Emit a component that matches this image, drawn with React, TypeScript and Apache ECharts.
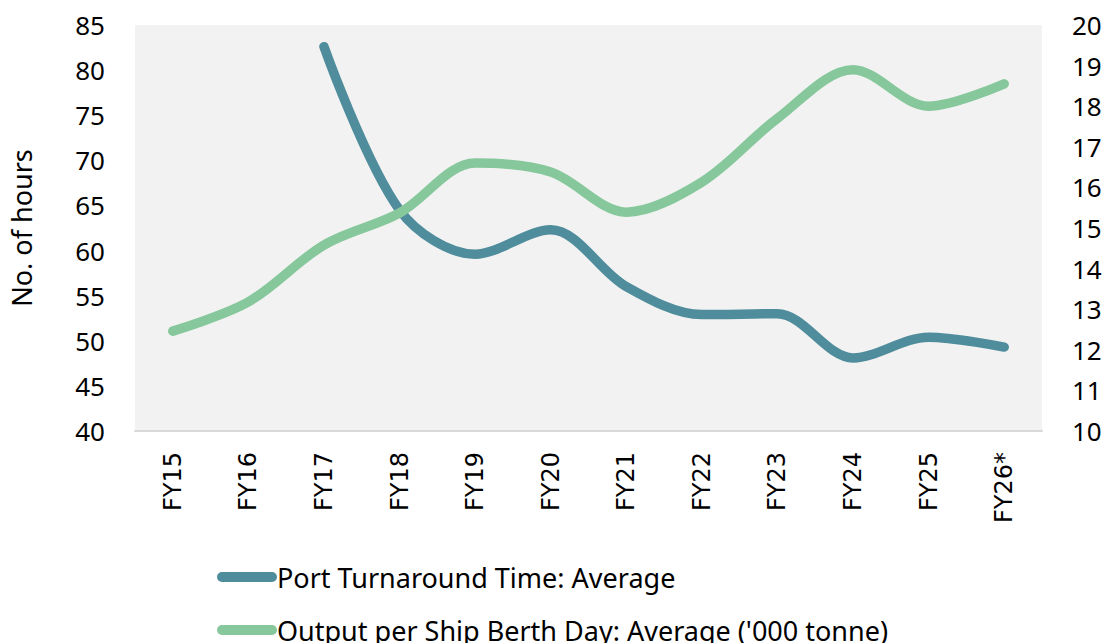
import React, { useEffect, useRef } from "react";
import * as echarts from "echarts";

const categories = ["FY15", "FY16", "FY17", "FY18", "FY19", "FY20", "FY21", "FY22", "FY23", "FY24", "FY25", "FY26*"];
const turnaroundHours = [null, null, 82.6, 64.5, 59.6, 62.3, 56.0, 52.9, 53.0, 48.1, 50.4, 49.3];
const outputPerBerthDay = [12.46, 13.18, 14.58, 15.37, 16.6, 16.38, 15.39, 16.13, 17.7, 18.9, 18.0, 18.55];
const leftTicks = { min: 40, max: 85, interval: 5 };
const rightTicks = { min: 10, max: 20, interval: 1 };
const seriesNames = ["Port Turnaround Time: Average", "Output per Ship Berth Day: Average ('000 tonne)"];

export default function App() {
  const ref = useRef<HTMLDivElement>(null);
  useEffect(() => {
    document.body.style.margin = "0";
    const chart = echarts.init(ref.current!, null, { renderer: "svg" });
    const tickFont = { fontFamily: "Noto Sans", fontSize: 26, color: "#000" };
    chart.setOption({
      animation: false,
      backgroundColor: "#fff",
      grid: {
        left: 135,
        right: 67,
        top: 25,
        bottom: 212,
        show: true,
        backgroundColor: "#f2f2f2",
        borderWidth: 0,
        containLabel: false,
      },
      legend: {
        orient: "vertical",
        left: 212,
        top: 558,
        height: 90,
        itemWidth: 60,
        itemHeight: 10,
        itemGap: 25,
        icon: "path://M5,0H55A5,5,0,0,1,55,10H5A5,5,0,0,1,5,0Z",
        textStyle: { fontFamily: "Noto Sans", fontSize: 27, color: "#000", lineHeight: 28, padding: [0, 0, 0, -5] },
        data: seriesNames,
      },
      xAxis: {
        type: "category",
        data: categories,
        boundaryGap: true,
        axisLine: { show: true, lineStyle: { color: "#d9d9d9", width: 2 } },
        axisTick: { show: false },
        axisLabel: { rotate: 90, margin: 21, fontFamily: "DejaVu Sans", fontSize: 24, color: "#000" },
        splitLine: { show: false },
      },
      yAxis: [
        {
          type: "value",
          ...leftTicks,
          position: "left",
          name: "No. of hours",
          nameLocation: "middle",
          nameRotate: 90,
          nameGap: 100,
          nameTextStyle: { fontFamily: "Noto Sans", fontSize: 27, color: "#000" },
          axisLine: { show: false },
          axisTick: { show: false },
          splitLine: { show: false },
          axisLabel: { ...tickFont, margin: 30 },
        },
        {
          type: "value",
          ...rightTicks,
          position: "right",
          axisLine: { show: false },
          axisTick: { show: false },
          splitLine: { show: false },
          axisLabel: { ...tickFont, margin: 30 },
        },
      ],
      series: [
        {
          name: seriesNames[0],
          type: "line",
          yAxisIndex: 0,
          data: turnaroundHours,
          smooth: 0.33,
          symbol: "none",
          connectNulls: false,
          lineStyle: { color: "#4f8d9c", width: 9.5, cap: "round", join: "round" },
          itemStyle: { color: "#4f8d9c" },
        },
        {
          name: seriesNames[1],
          type: "line",
          yAxisIndex: 1,
          data: outputPerBerthDay,
          smooth: 0.33,
          symbol: "none",
          lineStyle: { color: "#86c89b", width: 9.5, cap: "round", join: "round" },
          itemStyle: { color: "#86c89b" },
        },
      ],
    });
    return () => chart.dispose();
  }, []);
  return <div ref={ref} style={{ width: 1109, height: 643 }} />;
}
